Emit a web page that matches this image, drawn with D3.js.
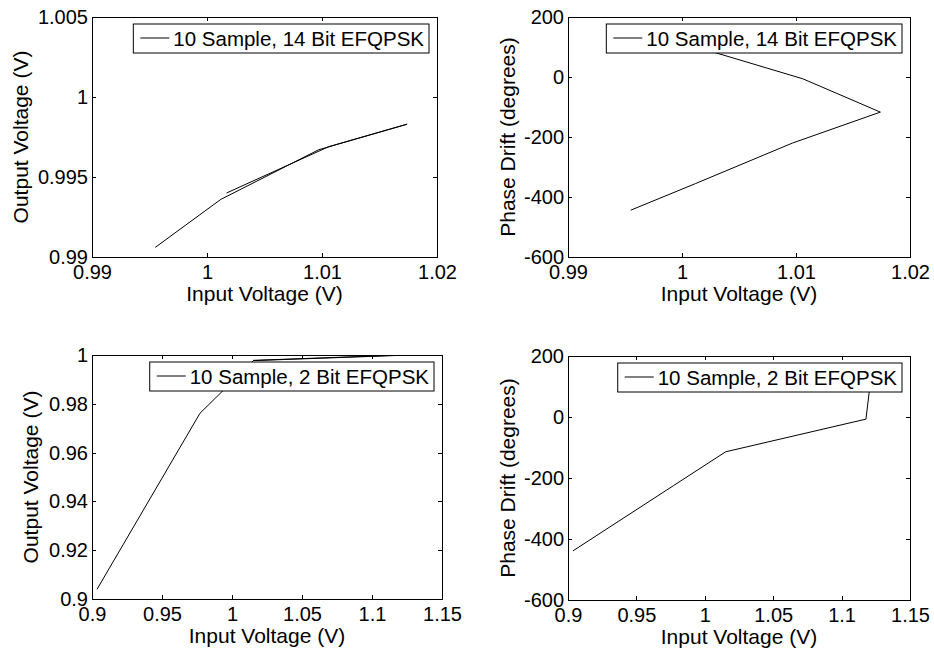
<!DOCTYPE html>
<html>
<head>
<meta charset="utf-8">
<script src="https://cdn.jsdelivr.net/npm/d3@7"></script>
<style>
  body { margin: 0; background: #fff; }
  svg { display: block; font-family: "Liberation Sans", Arial, sans-serif; }
  .axis path, .axis line { stroke: #000; stroke-width: 1; shape-rendering: crispEdges; }
  .axis text { font-size: 20px; fill: #000; }
</style>
</head>
<body>
<svg id="svg" width="934" height="648"></svg>
<script>
// 14 bit run
var vin14 = [0.9955, 1.0012, 1.0097, 1.0174, 1.0106, 1.0017];
var vout14 = [0.9906, 0.9936, 0.9967, 0.9983, 0.9969, 0.9940];
var phase14 = [-444, -355, -220, -117, -6, 95];

// 2 bit run
var vin2 = [0.9036, 0.9771, 1.0153, 1.1178, 1.1212, 1.0150];
var vout2 = [0.9040, 0.9761, 0.9977, 0.9998, 1.0000, 0.9978];
var phase2 = [-439, -225, -114, -7, 120, 140];

var xTicks14 = [0.99, 1, 1.01, 1.02];
var xTicks2 = [0.9, 0.95, 1, 1.05, 1.1, 1.15];
var voutTicks14 = [0.99, 0.995, 1, 1.005];
var voutTicks2 = [0.9, 0.92, 0.94, 0.96, 0.98, 1];
var phaseTicks = [-600, -400, -200, 0, 200];

var legend14 = "10 Sample, 14 Bit EFQPSK";
var legend2 = "10 Sample, 2 Bit EFQPSK";
var xLabel = "Input Voltage (V)";
var voutLabel = "Output Voltage (V)";
var phaseLabel = "Phase Drift (degrees)";

var svg = d3.select("#svg");

var panels = [
  {box: [92, 437, 17, 257], xs: vin14, ys: vout14, xd: [0.99, 1.02], yd: [0.99, 1.005],
   xt: xTicks14, yt: voutTicks14, ylab: voutLabel, ylx: 28, leg: legend14},
  {box: [568, 910, 17, 257], xs: vin14, ys: phase14, xd: [0.99, 1.02], yd: [-600, 200],
   xt: xTicks14, yt: phaseTicks, ylab: phaseLabel, ylx: 515, leg: legend14},
  {box: [92, 442, 355, 599], xs: vin2, ys: vout2, xd: [0.9, 1.15], yd: [0.9, 1],
   xt: xTicks2, yt: voutTicks2, ylab: voutLabel, ylx: 38, leg: legend2},
  {box: [568, 910, 356, 600], xs: vin2, ys: phase2, xd: [0.9, 1.15], yd: [-600, 200],
   xt: xTicks2, yt: phaseTicks, ylab: phaseLabel, ylx: 515, leg: legend2}
];

panels.forEach(function(p, i) {
  var left = p.box[0], right = p.box[1], top = p.box[2], bottom = p.box[3];
  var x = d3.scaleLinear().domain(p.xd).range([left, right]);
  var y = d3.scaleLinear().domain(p.yd).range([bottom, top]);
  var fmt = function(d) { return String(d); };

  var g = svg.append("g");

  g.append("clipPath").attr("id", "clip" + i)
    .append("rect")
    .attr("x", left).attr("y", top)
    .attr("width", right - left).attr("height", bottom - top);

  var pts = p.xs.map(function(v, k) { return [v, p.ys[k]]; });
  g.append("path")
    .datum(pts)
    .attr("clip-path", "url(#clip" + i + ")")
    .attr("fill", "none")
    .attr("stroke", "#000")
    .attr("stroke-width", 1)
    .attr("d", d3.line().x(function(d) { return x(d[0]); }).y(function(d) { return y(d[1]); }));

  g.append("g").attr("class", "axis")
    .attr("transform", "translate(0," + bottom + ")")
    .call(d3.axisBottom(x).tickValues(p.xt).tickFormat(fmt).tickSizeInner(-4).tickSizeOuter(0).tickPadding(8));
  g.append("g").attr("class", "axis")
    .attr("transform", "translate(0," + top + ")")
    .call(d3.axisTop(x).tickValues(p.xt).tickFormat("").tickSizeInner(-4).tickSizeOuter(0));
  g.append("g").attr("class", "axis")
    .attr("transform", "translate(" + left + ",0)")
    .call(d3.axisLeft(y).tickValues(p.yt).tickFormat(fmt).tickSizeInner(-4).tickSizeOuter(0).tickPadding(4));
  g.append("g").attr("class", "axis")
    .attr("transform", "translate(" + right + ",0)")
    .call(d3.axisRight(y).tickValues(p.yt).tickFormat("").tickSizeInner(-4).tickSizeOuter(0));

  g.append("text")
    .attr("x", (left + right) / 2)
    .attr("y", bottom + 44)
    .attr("text-anchor", "middle")
    .style("font-size", "21px")
    .text(xLabel);

  g.append("text")
    .attr("transform", "translate(" + p.ylx + "," + ((top + bottom) / 2) + ") rotate(-90)")
    .attr("text-anchor", "middle")
    .style("font-size", "21px")
    .text(p.ylab);

  // legend, top right inside the axes
  var lg = g.append("g");
  var box = lg.append("rect")
    .attr("fill", "#fff")
    .attr("stroke", "#000")
    .attr("stroke-width", 1);
  var txt = lg.append("text")
    .style("font-size", "20.5px")
    .text(p.leg);
  var tw = txt.node().getComputedTextLength();
  var lr = right - 8, lt = top + 7, lh = 29;
  var ll = lr - tw - 45;
  box.attr("x", ll).attr("y", lt).attr("width", lr - ll).attr("height", lh);
  lg.append("line")
    .attr("x1", ll + 7).attr("x2", ll + 36)
    .attr("y1", lt + 14).attr("y2", lt + 14)
    .attr("stroke", "#000").attr("stroke-width", 1);
  txt.attr("x", ll + 40).attr("y", lt + 22);
});
</script>
</body>
</html>
